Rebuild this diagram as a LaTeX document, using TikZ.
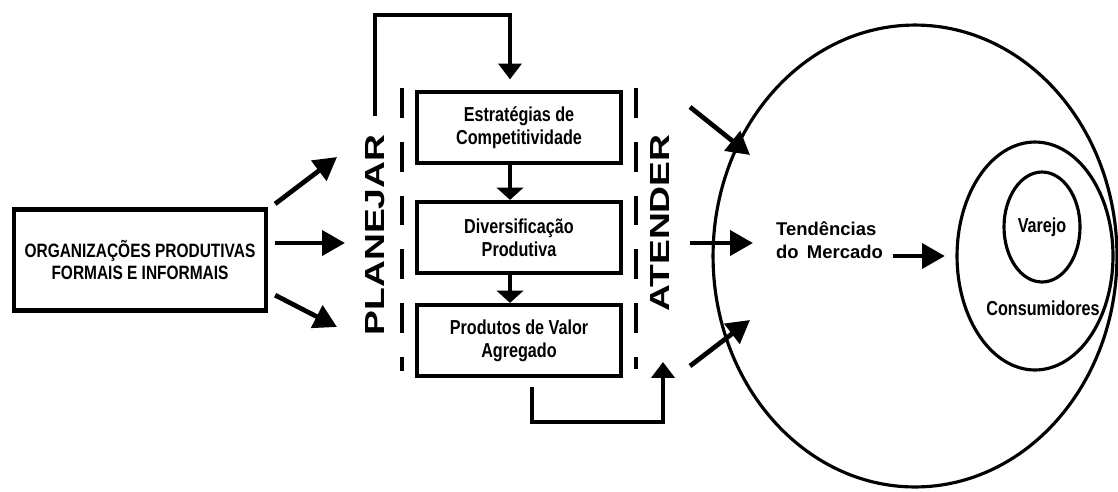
\documentclass[tikz,border=0pt]{standalone}
\usepackage{fontspec}
\setmainfont{Liberation Sans}
\newfontfamily\narrowsf[FakeStretch=0.8]{Liberation Sans}
\newfontfamily\widesf[FakeStretch=1.35]{Liberation Sans}
\usetikzlibrary{positioning,arrows.meta,shapes.geometric}

\begin{document}
\begin{tikzpicture}[x=0.02cm,y=-0.02cm,
    stagebox/.style={draw,rectangle,line width=2.4pt,minimum width=4.08cm,minimum height=1.42cm,align=center,font=\narrowsf\bfseries\fontsize{11.5}{13}\selectfont},
    bigarrow/.style={line width=2.7pt,-{Triangle[length=13pt,width=14pt]}},
    smallarrow/.style={line width=2.4pt,-{Triangle[length=7pt,width=15pt]}},
    backarrow/.style={line width=2.4pt,-{Triangle[length=9pt,width=13pt]}},
    limit/.style={line width=2.4pt,dash pattern=on 17pt off 13.6pt},
    ring/.style={draw,ellipse,line width=1.8pt,inner sep=0pt},
    stagelabel/.style={rotate=90,font=\widesf\bfseries\fontsize{15.7}{16}\selectfont}]
        \useasboundingbox (0,0) rectangle (1118,491);
        % source
        \node[draw,rectangle,line width=2.4pt,minimum width=5.04cm,minimum height=2.02cm,align=center,font=\narrowsf\bfseries\fontsize{11}{13}\selectfont] (org) at (140,260) {ORGANIZAÇÕES PRODUTIVAS\\FORMAIS E INFORMAIS};
        % planning column
        \node[stagelabel] (planejar) at (375,235) {PLANEJAR};
        \node[stagelabel] (atender) at (660,223) {ATENDER};
        \node[stagebox] (box1) at (519,127.5) {Estratégias de\\Competitividade};
        \node[stagebox] (box2) at (519,237.5) {Diversificação\\Produtiva};
        \node[stagebox] (box3) at (519,340.5) {Produtos de Valor\\Agregado};
        \coordinate (mid) at (510,0);
        \draw[limit] (402,88) -- (402,371);
        \draw[limit] (636,88) -- (636,369);
        \draw[smallarrow] (box1.south -| mid) -- (box2.north -| mid);
        \draw[smallarrow] (box2.south -| mid) -- (box3.north -| mid);
        % feedback loops
        \coordinate (topr) at (510,15);
        \draw[backarrow] ([yshift=7pt]planejar.east) |- (topr) -- ([yshift=6pt]box1.north -| topr);
        \coordinate (retl) at (532,422);
        \coordinate (retr) at (663,422);
        \coordinate (rettip) at (663,362);
        \draw[backarrow] ([yshift=-5pt]box3.south -| retl) -- (retl) -- (retr) -- (rettip);
        % inputs
        \coordinate (in1) at (337,157);
        \coordinate (in2) at (345,243);
        \coordinate (in3) at (337,327);
        \draw[bigarrow] ([shift={(4pt,2pt)}]org.north east) -- (in1);
        \draw[bigarrow] ([xshift=4pt]org.east |- in2) -- (in2);
        \draw[bigarrow] ([shift={(4pt,-20pt)}]org.east) -- (in3);
        % market
        \node[ring,minimum width=8.08cm,minimum height=9.24cm] (mercado) at (915,256) {};
        \node[ring,minimum width=3.12cm,minimum height=4.56cm] (consum) at (1035,256) {};
        \node[ring,minimum width=1.52cm,minimum height=2.2cm,font=\narrowsf\bfseries\fontsize{11.5}{13}\selectfont] (varejo) at (1042,227) {Varejo};
        \node[font=\narrowsf\bfseries\fontsize{11.5}{13}\selectfont] (consumlabel) at (1043,308) {Consumidores};
        \node[anchor=west,align=left,font=\bfseries\fontsize{10.5}{13}\selectfont] (tend) at (770,240) {Tendências\\do~\,Mercado};
        \coordinate (out1s) at (690,107);
        \coordinate (out1) at (750,155);
        \coordinate (out2s) at (690,243);
        \coordinate (out2) at (753,243);
        \coordinate (out3s) at (690,366);
        \coordinate (out3) at (750,320);
        \draw[bigarrow] (out1s) -- (out1);
        \draw[bigarrow] (out2s) -- (out2);
        \draw[bigarrow] (out3s) -- (out3);
        \draw[bigarrow,shorten <=2pt,shorten >=6pt] (tend.east |- consum.west) -- (consum.west);
      \end{tikzpicture}
\end{document}
